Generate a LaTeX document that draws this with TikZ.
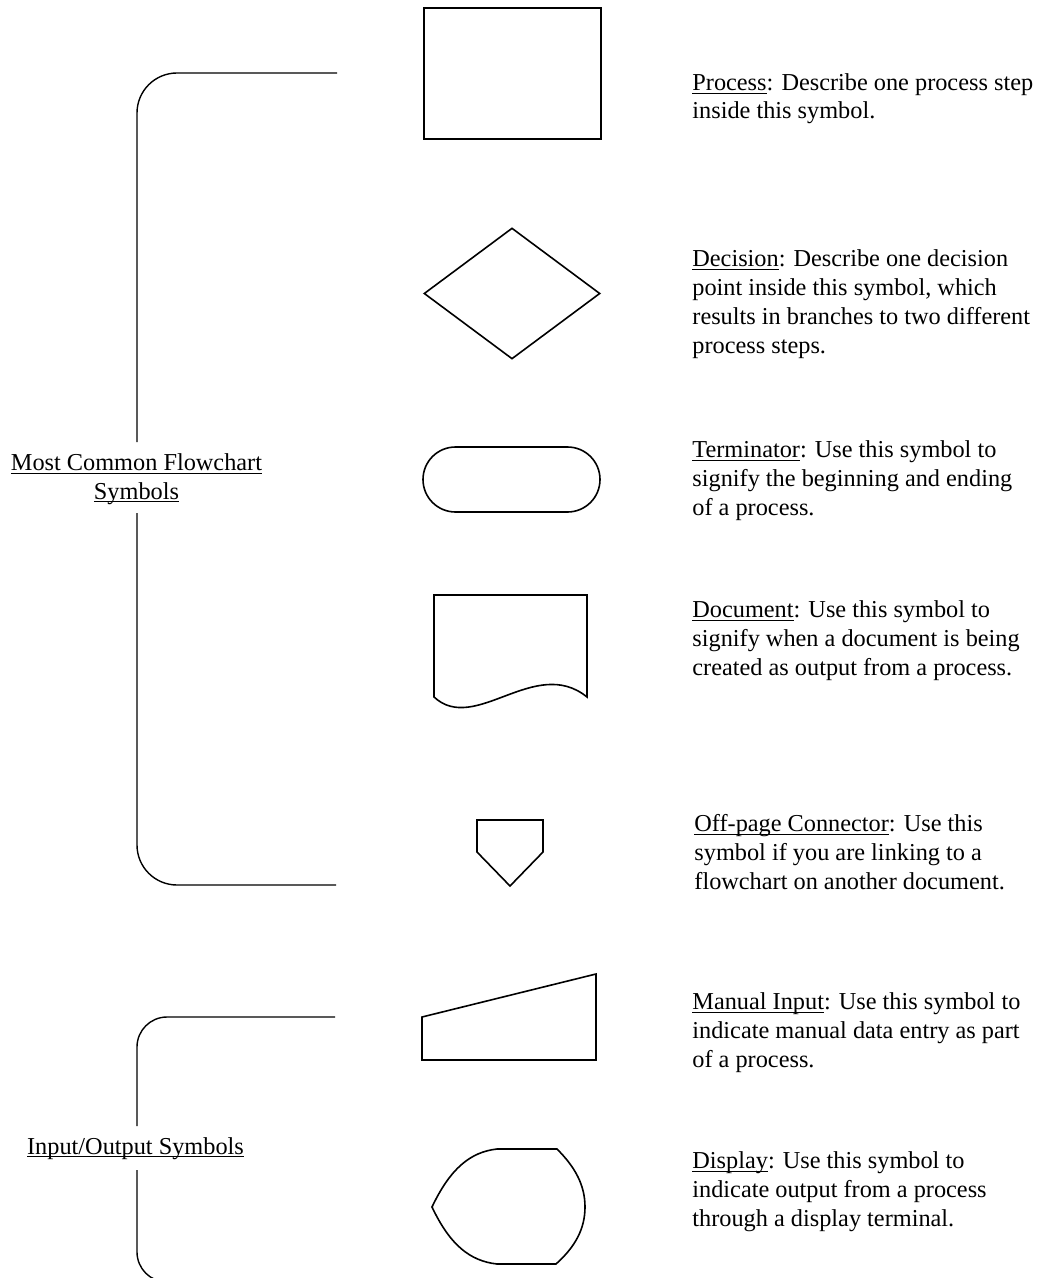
\documentclass[tikz,border=0pt]{standalone}
\usepackage{fontspec}
\setmainfont{Liberation Serif}
\usetikzlibrary{shapes.geometric}
\newcommand\lbl[1]{\underline{\smash{#1}}}

\begin{document}
\begin{tikzpicture}[x=0.5pt, y=-0.5pt, font=\fontsize{12.15}{14.4}\selectfont,
  shp/.style={draw, line width=0.8pt, inner sep=0pt},
  brk/.style={line width=0.7pt},
  txt/.style={anchor=base west, align=left, inner sep=0pt},
  grp/.style={anchor=base, align=center, inner sep=0pt},
]
  \useasboundingbox (0,0) rectangle (1037,1278);
  \clip (0,0) rectangle (1037,1278);

  % group brackets (node base = last line)
  \draw[brk, rounded corners=20pt] (337,73) -- (137,73) -- (137,442);
  \draw[brk, rounded corners=20pt] (137,513) -- (137,885) -- (336,885);
  \node[grp] (common) at (136.5,499) {\lbl{Most Common Flowchart}\\\lbl{Symbols}};

  \draw[brk, rounded corners=15pt] (335,1017) -- (137,1017) -- (137,1126);
  \draw[brk, rounded corners=15pt] (137,1170) -- (137,1282) -- (335,1282);
  \node[grp] (inout) at (135.5,1154) {\lbl{Input/Output Symbols}};

  % symbols
  \node[shp, minimum width=88.5pt, minimum height=65.5pt] (process) at (512.5,73.5) {};
  \node[shp, diamond, minimum width=88pt, minimum height=65.5pt] (decision) at (512,293.5) {};
  \node[shp, rounded corners=16.25pt, minimum width=88.5pt, minimum height=32.5pt] (term) at (511.5,479.5) {};
  \draw[line width=0.8pt] (434,697) -- (434,595) -- (587,595) -- (587,697)
    .. controls (535,655) and (475,735) .. cycle;
  \draw[line width=0.8pt] (477,820) -- (543,820) -- (543,852) -- (510,886) -- (477,852) -- cycle;
  \draw[line width=0.8pt] (422,1017) -- (596,974) -- (596,1060) -- (422,1060) -- cycle;
  \draw[line width=0.8pt] (432,1207) .. controls (450,1169) and (470,1152) .. (497,1149)
    -- (557,1149) .. controls (575,1167) and (585,1185) .. (585,1207)
    .. controls (585,1229) and (575,1247) .. (556,1264)
    -- (497,1264) .. controls (470,1261) and (450,1245) .. cycle;

  % descriptions
  \node[txt] (dprocess) at (692,119) {\lbl{Process}: Describe one process step\\inside this symbol.};
  \node[txt] (ddecision) at (692,353) {\lbl{Decision}: Describe one decision\\point inside this symbol, which\\results in branches to two different\\process steps.};
  \node[txt] (dterm) at (692,515) {\lbl{Terminator}: Use this symbol to\\signify the beginning and ending\\of a process.};
  \node[txt] (ddoc) at (692,675) {\lbl{Document}: Use this symbol to\\signify when a document is being\\created as output from a process.};
  \node[txt] (doff) at (694,889) {\lbl{Off-page Connector}: Use this\\symbol if you are linking to a\\flowchart on another document.};
  \node[txt] (dmanual) at (692,1067) {\lbl{Manual Input}: Use this symbol to\\indicate manual data entry as part\\of a process.};
  \node[txt] (ddisplay) at (692,1226) {\lbl{Display}: Use this symbol to\\indicate output from a process\\through a display terminal.};
\end{tikzpicture}
\end{document}
